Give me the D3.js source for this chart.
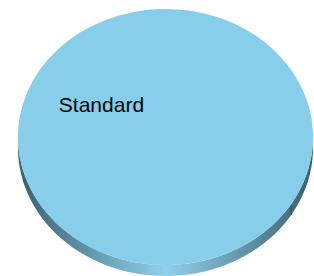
<!DOCTYPE html>
<html>
<head>
<meta charset="utf-8">
<script src="https://cdn.jsdelivr.net/npm/d3@7"></script>
<style>
  body { margin: 0; background: #fff; }
  svg { display: block; }
</style>
</head>
<body>
<div id="chart"></div>
<script>
// data
var categories = ["Standard"]
var values = [100]
var colors = ["#87ceeb"]

var width = 314, height = 276
var cx = 165.5, cy = 137      // centre of the top face
var rx = 147.5, ry = 128      // ellipse radii
var depth = 11                // thickness of the pie
var seamAngle = 0.55          // where the slice starts (screen angle, radians)

var svg = d3.select("#chart").append("svg")
    .attr("width", width)
    .attr("height", height)

// gradient for the side wall
var grad = svg.append("defs").append("linearGradient")
    .attr("id", "wall")
    .attr("gradientUnits", "userSpaceOnUse")
    .attr("x1", cx - rx).attr("x2", cx + rx)
    .attr("y1", 0).attr("y2", 0)
grad.append("stop").attr("offset", 0).attr("stop-color", "#3b5f6e")
grad.append("stop").attr("offset", 0.5).attr("stop-color", "#8fd1ea")
grad.append("stop").attr("offset", 1).attr("stop-color", "#3b5f6e")

var pie = d3.pie().sort(null).value(d => d)
    .startAngle(Math.PI / 2 + seamAngle)
    .endAngle(Math.PI / 2 + seamAngle + 2 * Math.PI)
var slices = pie(values)

// x/y scales turn unit circle points into the ellipse
var sx = d3.scaleLinear().domain([-1, 1]).range([cx - rx, cx + rx])
var sy = d3.scaleLinear().domain([-1, 1]).range([cy - ry, cy + ry])

// side wall: only the front half (screen angles 0..PI) can be seen
function wallPath(a0, a1) {
    var n = 60, top = [], bottom = []
    for (var i = 0; i <= n; i++) {
        var a = a0 + (a1 - a0) * i / n
        top.push([sx(Math.cos(a)), sy(Math.sin(a))])
        bottom.push([sx(Math.cos(a)), sy(Math.sin(a)) + depth])
    }
    return d3.line()(top.concat(bottom.reverse())) + "Z"
}

svg.append("path")
    .attr("d", wallPath(0, Math.PI))
    .attr("fill", "url(#wall)")

// seam of the slice on the wall
svg.append("line")
    .attr("x1", sx(Math.cos(seamAngle))).attr("x2", sx(Math.cos(seamAngle)))
    .attr("y1", sy(Math.sin(seamAngle)) + 2)
    .attr("y2", sy(Math.sin(seamAngle)) + depth)
    .attr("stroke", "#2e4a56")
    .attr("stroke-width", 1)

// top face
var arc = d3.arc().innerRadius(0).outerRadius(1)
svg.append("g")
    .attr("transform", "translate(" + cx + "," + cy + ") scale(" + rx + "," + ry + ")")
    .selectAll("path")
    .data(slices)
    .enter()
    .append("path")
    .attr("d", arc)
    .attr("fill", (d, i) => colors[i])

// labels
var labelAngle = -2.68, labelR = 0.5
svg.selectAll("text.label")
    .data(slices)
    .enter()
    .append("text")
    .attr("class", "label")
    .attr("x", sx(labelR * Math.cos(labelAngle)) + 2)
    .attr("y", sy(labelR * Math.sin(labelAngle)) + 4)
    .attr("text-anchor", "middle")
    .style("font-family", "Liberation Sans, Arial, sans-serif")
    .style("font-size", "21px")
    .style("fill", "#000")
    .text((d, i) => categories[i])
</script>
</body>
</html>
